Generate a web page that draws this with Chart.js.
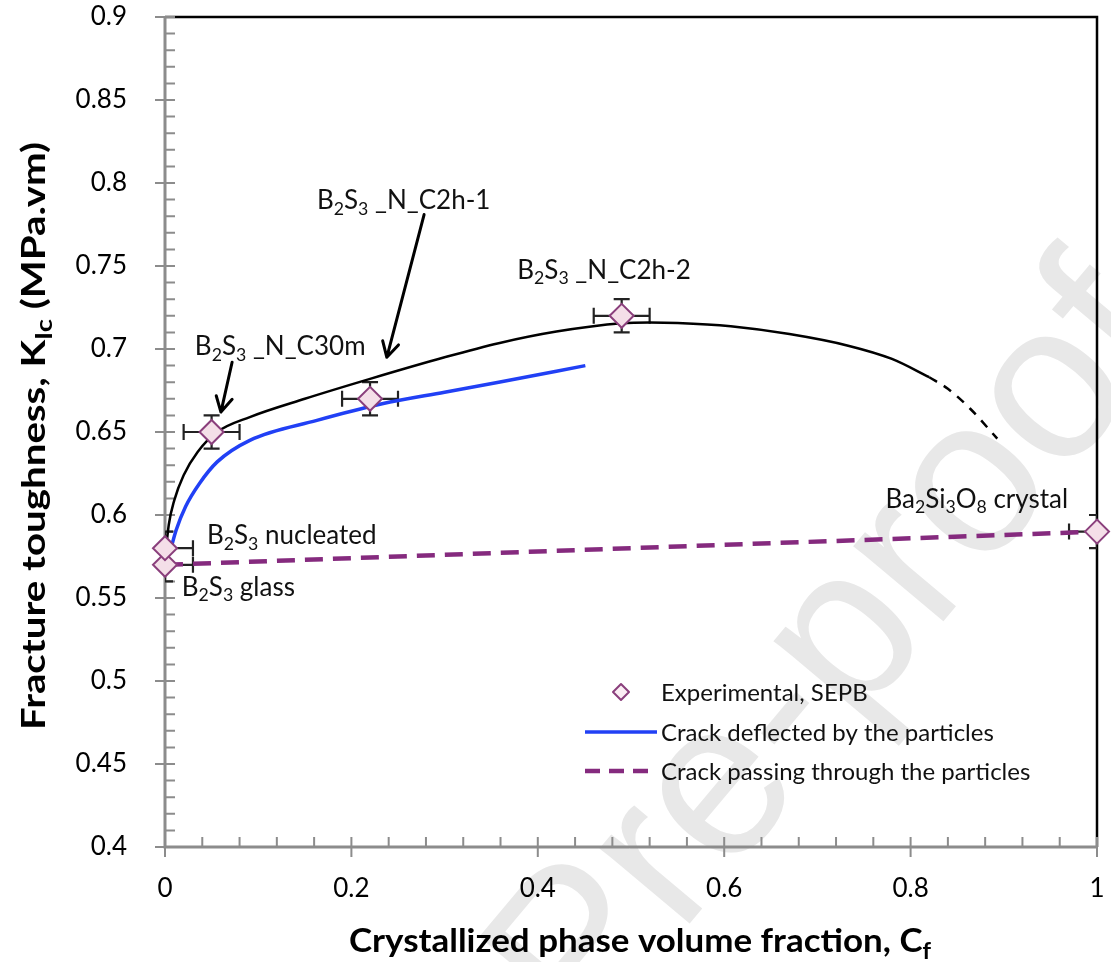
<!DOCTYPE html>
<html>
<head>
<meta charset="utf-8">
<script src="https://cdn.jsdelivr.net/npm/chart.js@4.4.0/dist/chart.umd.min.js"></script>
<style>
html, body { margin: 0; padding: 0; background: #fff; }
#wrap { width: 1111px; height: 962px; }
</style>
</head>
<body>
<div id="wrap"><canvas id="myChart" width="1111" height="962"></canvas></div>
<script>
// experimental points (SEPB) with error bars
var expX = [0, 0, 0.05, 0.22, 0.49, 1.0];
var expY = [0.57, 0.58, 0.65, 0.67, 0.72, 0.59];
var expErrX = [0.03, 0.03, 0.03, 0.03, 0.03, 0.03];
var expErrY = [0.01, 0.01, 0.01, 0.01, 0.01, 0.01];

// model: crack deflected by the particles (blue)
var deflX = [0.005, 0.012, 0.022, 0.037, 0.056, 0.091, 0.163, 0.233, 0.3, 0.358, 0.451];
var deflY = [0.577, 0.591, 0.605, 0.619, 0.632, 0.645, 0.657, 0.667, 0.674, 0.680, 0.690];

// model: crack passing through the particles (purple dashed)
var passX = [0, 1];
var passY = [0.57, 0.59];

// black trend line through the experimental points
var fitX = [0, 0.004, 0.01, 0.02, 0.035, 0.056, 0.091, 0.15, 0.22, 0.3, 0.358, 0.42, 0.49, 0.52, 0.55, 0.607, 0.67, 0.733, 0.78, 0.82];
var fitY = [0.573, 0.594, 0.609, 0.624, 0.638, 0.650, 0.659, 0.670, 0.682, 0.695, 0.7035, 0.7105, 0.7155, 0.716, 0.7157, 0.7137, 0.709, 0.702, 0.694, 0.683];
var fitExtX = [0.82, 0.84, 0.864, 0.893];
var fitExtY = [0.683, 0.676, 0.664, 0.646];

var xTicks = [0, 0.2, 0.4, 0.6, 0.8, 1];
var yTicks = [0.4, 0.45, 0.5, 0.55, 0.6, 0.65, 0.7, 0.75, 0.8, 0.85, 0.9];

// annotations ({..} = subscript)
var noteText = ['B{2}S{3} _N_C2h-1', 'B{2}S{3} _N_C2h-2', 'B{2}S{3} _N_C30m', 'B{2}S{3} nucleated', 'B{2}S{3} glass', 'Ba{2}Si{3}O{8} crystal'];
var noteX = [0.163, 0.378, 0.032, 0.045, 0.018, 0.773];
var noteY = [0.790, 0.748, 0.702, 0.588, 0.557, 0.610];

var arrowFrom = [[0.278, 0.781], [0.072, 0.692]];
var arrowTo = [[0.238, 0.695], [0.060, 0.662]];

var xTitle = 'Crystallized phase volume fraction, C{f}';
var yTitle = 'Fracture toughness, K{Ic} (MPa.vm)';

var FONT = 'Lato';
var AXIS_GREY = '#8c8c8c';

function pts(xs, ys){
    var out = [];
    for (var i = 0; i < xs.length; i++) out.push({x: xs[i], y: ys[i]});
    return out;
}

function fmt(v){
    return String(Number(v.toFixed(2)));
}

// text with {subscript} parts, y is the visual middle; fitW stretches along the baseline
function drawRich(ctx, str, x, y, size, bold, align, fitW){
    var parts = [];
    var re = /([^{]+)|\{([^}]*)\}/g, m;
    while ((m = re.exec(str)) !== null) {
        if (m[1] !== undefined) parts.push({t: m[1], sub: false});
        else parts.push({t: m[2], sub: true});
    }
    var w = 0;
    var weight = bold ? 'bold ' : '';
    for (var i = 0; i < parts.length; i++) {
        var fs = parts[i].sub ? size * 0.68 : size;
        ctx.font = weight + fs + 'px ' + FONT;
        parts[i].w = ctx.measureText(parts[i].t).width;
        w += parts[i].w;
    }
    var sx = fitW ? fitW / w : 1;
    ctx.save();
    ctx.translate(x, y);
    ctx.scale(sx, 1);
    var cx = align === 'center' ? -w / 2 : 0;
    var base = size * 0.36;
    ctx.textAlign = 'left';
    ctx.textBaseline = 'alphabetic';
    for (var j = 0; j < parts.length; j++) {
        var f = parts[j].sub ? size * 0.68 : size;
        ctx.font = weight + f + 'px ' + FONT;
        ctx.fillText(parts[j].t, cx, parts[j].sub ? base + size * 0.22 : base);
        cx += parts[j].w;
    }
    ctx.restore();
}

function drawArrow(ctx, x1, y1, x2, y2){
    var a = Math.atan2(y2 - y1, x2 - x1);
    var L = 17;
    ctx.beginPath();
    ctx.moveTo(x1, y1);
    ctx.lineTo(x2, y2);
    ctx.moveTo(x2 - L * Math.cos(a - 0.5), y2 - L * Math.sin(a - 0.5));
    ctx.lineTo(x2, y2);
    ctx.lineTo(x2 - L * Math.cos(a + 0.5), y2 - L * Math.sin(a + 0.5));
    ctx.stroke();
}

var decor = {
    id: 'decor',
    beforeDraw: function(chart){
        var ctx = chart.ctx;
        ctx.save();
        ctx.fillStyle = '#fff';
        ctx.fillRect(0, 0, chart.width, chart.height);
        // "Pre-proof" watermark
        ctx.translate(835, 655);
        ctx.rotate(-50 * Math.PI / 180);
        ctx.font = '222px "Liberation Sans"';
        ctx.fillStyle = '#e8e8e8';
        ctx.textAlign = 'center';
        ctx.textBaseline = 'middle';
        ctx.fillText('Pre-proof', 0, 0);
        ctx.restore();
    },
    beforeDatasetsDraw: function(chart){
        var ctx = chart.ctx, a = chart.chartArea;
        var xs = chart.scales.x, ys = chart.scales.y;
        ctx.save();
        // top and right frame
        ctx.strokeStyle = '#000';
        ctx.lineWidth = 2.5;
        ctx.beginPath();
        ctx.moveTo(a.left, a.top);
        ctx.lineTo(a.right, a.top);
        ctx.lineTo(a.right, a.bottom);
        ctx.stroke();
        // grey axes
        ctx.strokeStyle = AXIS_GREY;
        ctx.lineWidth = 3;
        ctx.beginPath();
        ctx.moveTo(a.left, a.top - 1);
        ctx.lineTo(a.left, a.bottom);
        ctx.lineTo(a.right + 1, a.bottom);
        ctx.stroke();
        // tick marks
        ctx.lineWidth = 2;
        ctx.beginPath();
        for (var i = 0; i <= 50; i++) {
            var py = ys.getPixelForValue(0.4 + i * 0.01);
            ctx.moveTo(i % 5 === 0 ? a.left - 10 : a.left, py);
            ctx.lineTo(a.left + 10, py);
        }
        for (var k = 0; k <= 25; k++) {
            var px = xs.getPixelForValue(k * 0.04);
            ctx.moveTo(px, k % 5 === 0 ? a.bottom + 10 : a.bottom);
            ctx.lineTo(px, a.bottom - 10);
        }
        ctx.stroke();
        // error bars
        ctx.save();
        ctx.beginPath();
        ctx.rect(a.left, a.top, a.right - a.left, a.bottom - a.top);
        ctx.clip();
        ctx.strokeStyle = '#222';
        ctx.lineWidth = 2.2;
        ctx.beginPath();
        for (var j = 0; j < expX.length; j++) {
            var cx = xs.getPixelForValue(expX[j]), cy = ys.getPixelForValue(expY[j]);
            var x0 = xs.getPixelForValue(expX[j] - expErrX[j]), x1 = xs.getPixelForValue(expX[j] + expErrX[j]);
            var y0 = ys.getPixelForValue(expY[j] - expErrY[j]), y1 = ys.getPixelForValue(expY[j] + expErrY[j]);
            ctx.moveTo(x0, cy); ctx.lineTo(x1, cy);
            ctx.moveTo(x0, cy - 8); ctx.lineTo(x0, cy + 8);
            ctx.moveTo(x1, cy - 8); ctx.lineTo(x1, cy + 8);
            ctx.moveTo(cx, y0); ctx.lineTo(cx, y1);
            ctx.moveTo(cx - 8, y0); ctx.lineTo(cx + 8, y0);
            ctx.moveTo(cx - 8, y1); ctx.lineTo(cx + 8, y1);
        }
        ctx.stroke();
        ctx.restore();
        ctx.restore();
    },
    afterDatasetsDraw: function(chart){
        var ctx = chart.ctx;
        var xs = chart.scales.x, ys = chart.scales.y;
        ctx.save();
        ctx.fillStyle = '#111';
        for (var i = 0; i < noteText.length; i++) {
            drawRich(ctx, noteText[i], xs.getPixelForValue(noteX[i]), ys.getPixelForValue(noteY[i]), 26, false, 'left');
        }
        ctx.strokeStyle = '#000';
        ctx.lineWidth = 3;
        ctx.lineCap = 'round';
        ctx.lineJoin = 'round';
        for (var k = 0; k < arrowFrom.length; k++) {
            drawArrow(ctx,
                xs.getPixelForValue(arrowFrom[k][0]), ys.getPixelForValue(arrowFrom[k][1]),
                xs.getPixelForValue(arrowTo[k][0]), ys.getPixelForValue(arrowTo[k][1]));
        }
        ctx.lineCap = 'butt';

        // legend
        var ds = chart.data.datasets;
        var lx0 = 585, lx1 = 657, tx = 661;
        var rows = [692, 732, 771];
        ctx.fillStyle = '#fbeef4';
        ctx.strokeStyle = ds[0].borderColor;
        ctx.lineWidth = 2;
        ctx.beginPath();
        ctx.moveTo(621, rows[0] - 8); ctx.lineTo(629, rows[0]); ctx.lineTo(621, rows[0] + 8); ctx.lineTo(613, rows[0]);
        ctx.closePath();
        ctx.fill(); ctx.stroke();
        ctx.strokeStyle = ds[1].borderColor;
        ctx.lineWidth = ds[1].borderWidth;
        ctx.beginPath(); ctx.moveTo(lx0, rows[1]); ctx.lineTo(lx1, rows[1]); ctx.stroke();
        ctx.strokeStyle = ds[2].borderColor;
        ctx.lineWidth = ds[2].borderWidth;
        ctx.setLineDash([15, 9]);
        ctx.beginPath(); ctx.moveTo(lx0, rows[2]); ctx.lineTo(lx1, rows[2]); ctx.stroke();
        ctx.setLineDash([]);
        ctx.fillStyle = '#111';
        for (var r = 0; r < 3; r++) {
            drawRich(ctx, ds[r].label, tx, rows[r], 24, false, 'left');
        }

        // axis titles
        ctx.fillStyle = '#000';
        drawRich(ctx, xTitle, 640, 940, 33, true, 'center', 582);
        ctx.translate(33, 436);
        ctx.rotate(-Math.PI / 2);
        drawRich(ctx, yTitle, 0, 0, 33, true, 'center', 588);
        ctx.restore();
    }
};

var ctx = document.getElementById('myChart').getContext('2d');
var chart = new Chart(ctx, {
    type: 'scatter',
    data: {
        datasets: [{
            label: 'Experimental, SEPB',
            data: pts(expX, expY),
            pointStyle: 'rectRot',
            pointRadius: 12,
            pointHoverRadius: 12,
            backgroundColor: '#f4dfe8',
            borderColor: '#8a3f7c',
            borderWidth: 2,
            showLine: false,
            clip: false
        }, {
            label: 'Crack deflected by the particles',
            data: pts(deflX, deflY),
            showLine: true,
            borderColor: '#2140f5',
            borderWidth: 3.5,
            pointRadius: 0,
            cubicInterpolationMode: 'monotone'
        }, {
            label: 'Crack passing through the particles',
            data: pts(passX, passY),
            showLine: true,
            borderColor: '#852a7e',
            borderWidth: 4.5,
            borderDash: [18, 10],
            pointRadius: 0
        }, {
            label: 'trend',
            data: pts(fitX, fitY),
            showLine: true,
            borderColor: '#000',
            borderWidth: 2.5,
            pointRadius: 0,
            cubicInterpolationMode: 'monotone'
        }, {
            label: 'trend extension',
            data: pts(fitExtX, fitExtY),
            showLine: true,
            borderColor: '#000',
            borderWidth: 2.5,
            borderDash: [9, 8],
            pointRadius: 0,
            cubicInterpolationMode: 'monotone'
        }]
    },
    options: {
        responsive: false,
        animation: false,
        events: [],
        layout: { padding: { top: 17, right: 11, left: 0, bottom: 0 } },
        plugins: { legend: { display: false }, tooltip: { enabled: false } },
        scales: {
            x: {
                type: 'linear', min: 0, max: 1,
                grid: { display: false }, border: { display: false },
                afterBuildTicks: function(s){ s.ticks = xTicks.map(function(v){ return {value: v}; }); },
                ticks: { font: { family: FONT, size: 26 }, color: '#000', padding: 18, maxRotation: 0, callback: fmt },
                afterFit: function(s){ s.height = 115; s.paddingLeft = 0; s.paddingRight = 0; }
            },
            y: {
                type: 'linear', min: 0.4, max: 0.9,
                grid: { display: false }, border: { display: false },
                afterBuildTicks: function(s){ s.ticks = yTicks.map(function(v){ return {value: v}; }); },
                ticks: { font: { family: FONT, size: 26 }, color: '#000', padding: 30, callback: fmt },
                afterFit: function(s){ s.width = 165; s.paddingTop = 0; s.paddingBottom = 0; }
            }
        }
    },
    plugins: [decor]
});
</script>
</body>
</html>
